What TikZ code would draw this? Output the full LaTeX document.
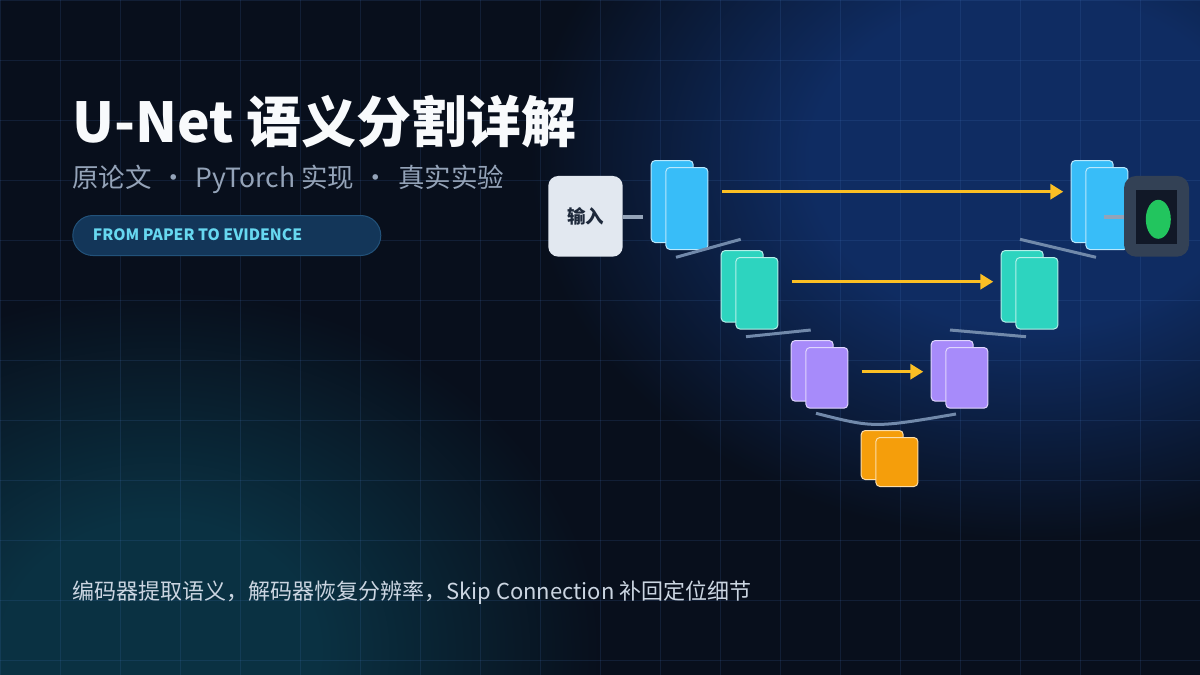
\documentclass[tikz,border=0pt]{standalone}
\usepackage{fontspec}
\setmainfont{Noto Sans CJK SC}
\usetikzlibrary{arrows.meta,shapes.geometric}
\definecolor{bgbase}{HTML}{080F1C}
\definecolor{glowblue}{HTML}{0F2C62}
\definecolor{glowteal}{HTML}{0A3142}
\definecolor{gridc}{HTML}{4D80CC}
\definecolor{ctitle}{HTML}{F8FAFC}
\definecolor{csub}{HTML}{94A3B8}
\definecolor{cpill}{HTML}{133659}
\definecolor{cpilledge}{HTML}{22527A}
\definecolor{cpilltext}{HTML}{67D8F0}
\definecolor{ccap}{HTML}{CBD5E1}
\definecolor{cinput}{HTML}{E2E8F0}
\definecolor{cinputtext}{HTML}{1E293B}
\definecolor{cconn}{HTML}{94A3B8}
\definecolor{clvl}{HTML}{7189AA}
\definecolor{cyellow}{HTML}{FBBF24}
\definecolor{cblue}{HTML}{38BDF8}
\definecolor{cteal}{HTML}{2DD4BF}
\definecolor{cpurple}{HTML}{A78BFA}
\definecolor{corange}{HTML}{F59E0B}
\definecolor{coutbox}{HTML}{334155}
\definecolor{coutimg}{HTML}{111827}
\definecolor{cmask}{HTML}{22C55E}
\pgfdeclareradialshading{blueglow}{\pgfpoint{0bp}{0bp}}{color(0bp)=(glowblue); color(11bp)=(glowblue); color(25bp)=(bgbase); color(50bp)=(bgbase)}
\pgfdeclareradialshading{tealglow}{\pgfpoint{0bp}{0bp}}{color(0bp)=(glowteal); color(9bp)=(glowteal); color(25bp)=(bgbase); color(50bp)=(bgbase)}
\newcommand\middotsep{\makebox[44pt]{·}}
\begin{document}
\begin{tikzpicture}[x=1pt,y=-1pt,
  gridline/.style={draw=gridc, draw opacity=0.15, line width=1pt},
  fm/.style={rectangle, rounded corners=4pt, minimum width=42pt, inner sep=0pt, line width=1pt, anchor=north west},
  fmblue/.style={fm, fill=cblue, draw=cblue!35!white},
  fmteal/.style={fm, fill=cteal, draw=cteal!35!white},
  fmpurple/.style={fm, fill=cpurple, draw=cpurple!35!white},
  fmorange/.style={fm, fill=corange, draw=corange!35!white},
  skiparrow/.style={draw=cyellow, line width=3.3pt, -{Triangle[length=13pt,width=15pt]}},
  lvl/.style={draw=clvl, line width=3pt},
  conn/.style={draw=cconn, line width=4pt},
  txt/.style={anchor=base west, inner sep=0pt}
]
\useasboundingbox (0,0) rectangle (1200,675);
\fill[bgbase] (0,0) rectangle (1200,675);
\begin{scope}
\clip (0,0) rectangle (1200,675);
\shade[shading=blueglow] (1030,160) ellipse [x radius=500, y radius=380];
\shade[shading=tealglow] (160,650) ellipse [x radius=440, y radius=360];
\foreach \x in {0,60,...,1200} \draw[gridline] (\x,0) -- (\x,675);
\foreach \y in {0,60,...,660} \draw[gridline] (0,\y) -- (1200,\y);
\end{scope}

% texts
\node[txt, text=ctitle, font=\bfseries\fontsize{55}{60}\selectfont] (title) at (72,142) {U-Net 语义分割详解};
\node[txt, text=csub, font=\fontsize{26.5}{30}\selectfont] (sub) at (72,187) {原论文\middotsep PyTorch 实现\middotsep 真实实验};
\node[rectangle, rounded corners=20pt, fill=cpill, draw=cpilledge, line width=1pt, minimum width=308pt, minimum height=40pt, inner sep=0pt, anchor=north west] (pill) at (72.3,215) {};
\node[txt, text=cpilltext, font=\bfseries\fontsize{15.6}{18}\selectfont] (pilltext) at (92.7,240.5) {FROM PAPER TO EVIDENCE};
\node[txt, text=ccap, font=\fontsize{22}{26}\selectfont] (caption) at (72,599) {编码器提取语义，解码器恢复分辨率，Skip Connection 补回定位细节};

% input
\node[rectangle, rounded corners=10pt, fill=cinput, minimum width=74.4pt, minimum height=80.7pt, inner sep=0pt, text=cinputtext, font=\bfseries\fontsize{18.5}{20}\selectfont] (inp) at (585.5,216.3) {输入\hspace{5pt}};

% encoder
\node[fmblue, minimum height=82pt] (e1b) at (650.7,160) {};
\node[fmblue, minimum height=82pt] (e1f) at (665.4,167) {};
\node[fmteal, minimum height=71.5pt] (e2b) at (720.7,250) {};
\node[fmteal, minimum height=71.5pt] (e2f) at (735.4,257) {};
\node[fmpurple, minimum height=60.7pt] (e3b) at (790.7,340) {};
\node[fmpurple, minimum height=60.7pt] (e3f) at (805.4,347) {};
% bottleneck
\node[fmorange, minimum height=49pt] (bb) at (860.7,430) {};
\node[fmorange, minimum height=49pt] (bf) at (875.4,437) {};
% decoder
\node[fmpurple, minimum height=60.7pt] (d3b) at (930.7,340) {};
\node[fmpurple, minimum height=60.7pt] (d3f) at (945.4,347) {};
\node[fmteal, minimum height=71.5pt] (d2b) at (1000.7,250) {};
\node[fmteal, minimum height=71.5pt] (d2f) at (1015.4,257) {};
\node[fmblue, minimum height=82pt] (d1b) at (1070.7,160) {};
\node[fmblue, minimum height=82pt] (d1f) at (1085.4,167) {};

% output
\node[rectangle, rounded corners=12pt, fill=coutbox, minimum width=65pt, minimum height=80.7pt, inner sep=0pt] (out) at (1156.5,216.3) {};
\node[rectangle, fill=coutimg, minimum width=41pt, minimum height=54pt, inner sep=0pt] (outimg) at (1156.2,217) {};
\node[ellipse, fill=cmask, minimum width=25pt, minimum height=39pt, inner sep=0pt] (mask) at (1158.3,219.3) {};

% connectors
\coordinate (inpend) at (643,216.7);
\draw[conn] (inp.east |- inpend) -- (inpend);
\coordinate (outstart) at (1104,216.7);
\draw[conn] (outstart) -- (out.west |- outstart);

% level lines
\coordinate (l1a) at (676,257.3); \coordinate (l1b) at (740.7,239.3);
\coordinate (l2a) at (746,336.7); \coordinate (l2b) at (810.7,330);
\coordinate (c3a) at (816,413.3); \coordinate (c3b) at (956,414);
\coordinate (r2a) at (950,330); \coordinate (r2b) at (1026,336.7);
\coordinate (r1a) at (1020,239.3); \coordinate (r1b) at (1096,257.3);
\draw[lvl] (l1a) -- (l1b);
\draw[lvl] (l2a) -- (l2b);
\draw[lvl] (c3a) .. controls (874,428) .. (c3b);
\draw[lvl] (r2a) -- (r2b);
\draw[lvl] (r1a) -- (r1b);

% skip connections
\coordinate (s1a) at (722,191.7); \coordinate (s1b) at (1063.3,191.7);
\coordinate (s2a) at (791.7,281.7); \coordinate (s2b) at (993.3,281.7);
\coordinate (s3a) at (861.7,371.7); \coordinate (s3b) at (923.3,371.7);
\draw[skiparrow] (s1a) -- (s1b);
\draw[skiparrow] (s2a) -- (s2b);
\draw[skiparrow] (s3a) -- (s3b);
\end{tikzpicture}
\end{document}
